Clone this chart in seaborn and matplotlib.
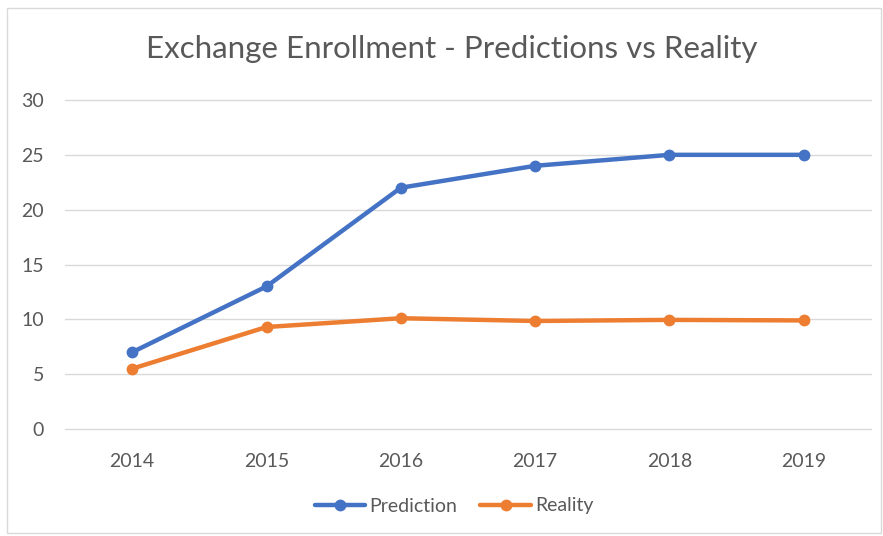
import matplotlib
matplotlib.use("Agg")
import matplotlib.pyplot as plt
import seaborn as sns
import pandas as pd
from matplotlib.patches import Rectangle

years = ["2014", "2015", "2016", "2017", "2018", "2019"]
prediction = [7.0, 13.0, 22.0, 24.0, 25.0, 25.0]
reality = [5.5, 9.3, 10.1, 9.85, 9.95, 9.9]
series_names = ["Prediction", "Reality"]
title = "Exchange Enrollment - Predictions vs Reality"
yticks = [0, 5, 10, 15, 20, 25, 30]

df = pd.DataFrame({
    "Year": years * 2,
    "x": list(range(len(years))) * 2,
    "Value": prediction + reality,
    "Series": [series_names[0]] * len(years) + [series_names[1]] * len(years),
})

sns.set_theme(style="white")
plt.rcParams["font.family"] = ["Lato", "DejaVu Sans"]

fig = plt.figure(figsize=(8.83, 5.36), dpi=100)
ax = fig.add_axes([65 / 883, 1 - 429 / 536, (871 - 65) / 883, (429 - 100) / 536])

palette = {"Prediction": "#4472C4", "Reality": "#ED7D31"}
sns.lineplot(data=df, x="x", y="Value", hue="Series", palette=palette,
             marker="o", markersize=8.5, markeredgewidth=0, linewidth=3.2,
             ax=ax, legend=True)

ax.set_xlim(-0.5, len(years) - 0.5)
ax.set_ylim(0, 30)
ax.set_yticks(yticks)
ax.set_xticks(range(len(years)))
ax.set_xticklabels(years)
ax.set_xlabel("")
ax.set_ylabel("")
ax.grid(axis="y", color="#D9D9D9", linewidth=1)
ax.set_axisbelow(True)
for s in ax.spines.values():
    s.set_visible(False)
ax.tick_params(axis="both", length=0, labelsize=14, labelcolor="#595959")
ax.tick_params(axis="y", pad=15)
ax.tick_params(axis="x", pad=17)
for gl in ax.get_ygridlines():
    gl.set_clip_on(False)

fig.text(452 / 883, 1 - 49 / 536, title, ha="center", va="center",
         fontsize=22.5, color="#595959")

handles, labels = ax.get_legend_handles_labels()
leg = ax.legend(handles, labels, loc="center", bbox_to_anchor=(454 / 883, 1 - 506 / 536),
                bbox_transform=fig.transFigure, ncol=2, frameon=False,
                fontsize=14, handlelength=2.6, columnspacing=1.2, handletextpad=0.2)
for t in leg.get_texts():
    t.set_color("#595959")

fig.patches.append(Rectangle((7 / 883, 0.005), 1 - 9 / 883, 1 - 8 / 536 - 0.005,
                             transform=fig.transFigure, fill=False,
                             edgecolor="#D9D9D9", linewidth=1))

fig.savefig("out.png", dpi=100, facecolor="white")
